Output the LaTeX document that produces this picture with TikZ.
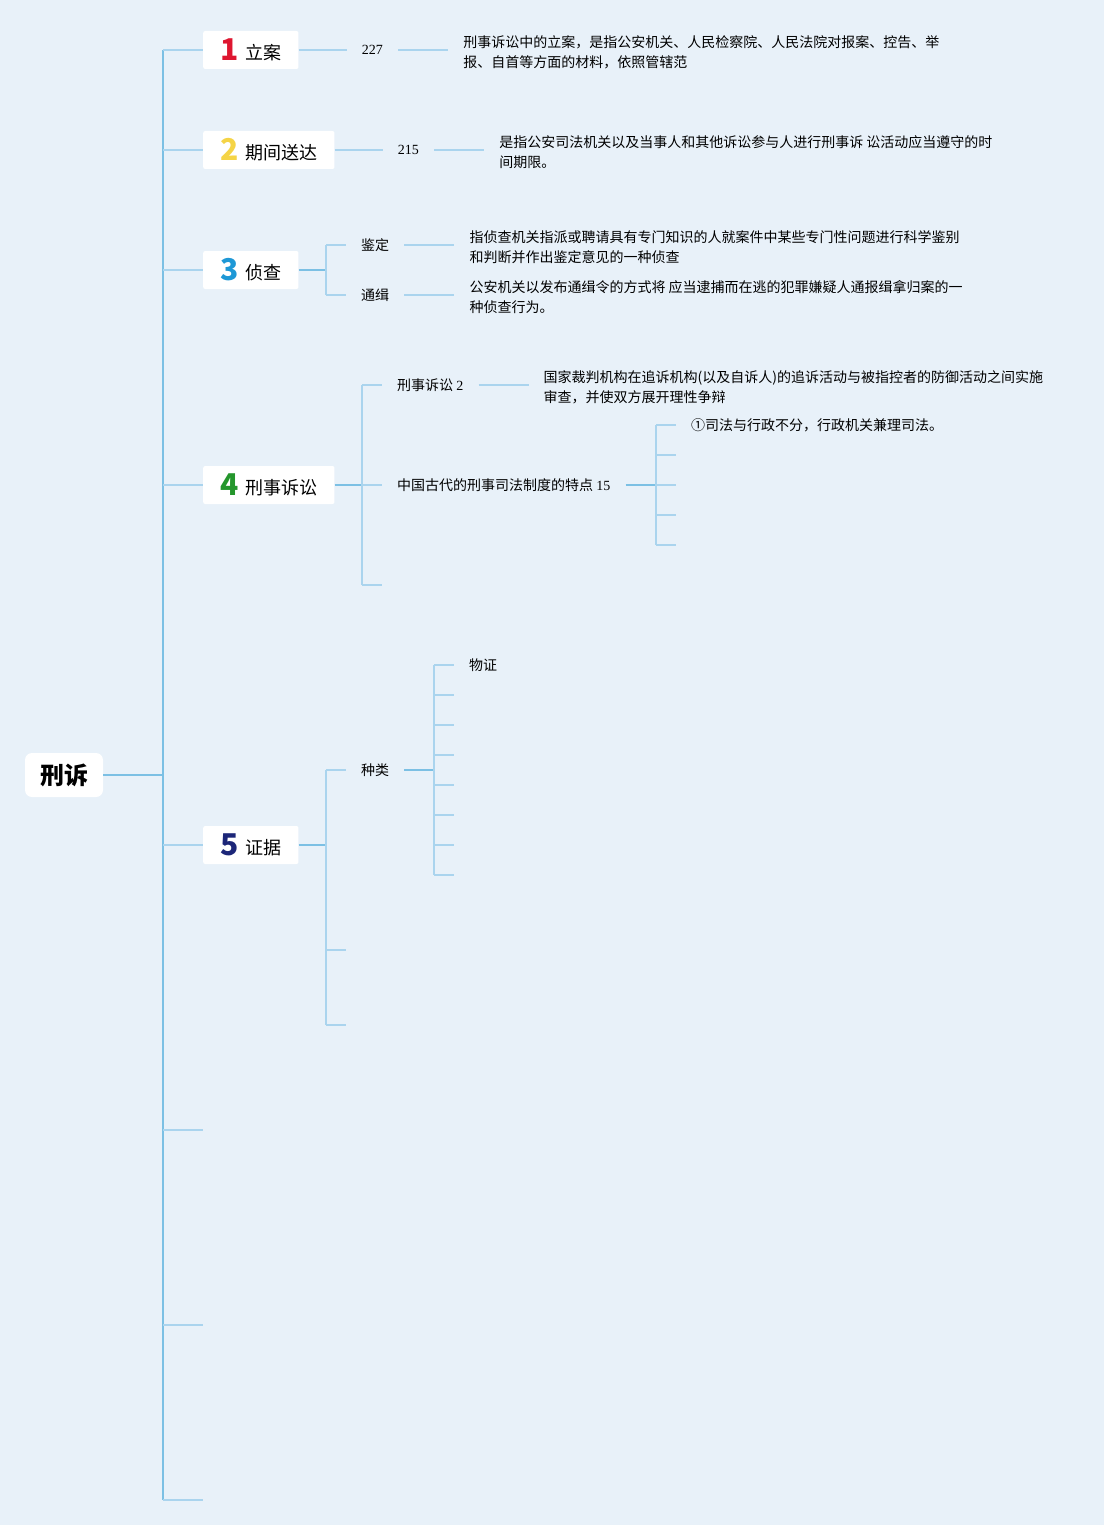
\documentclass[tikz,border=0pt]{standalone}
\usepackage{fontspec}
\setmainfont{Liberation Serif}
\newfontfamily\cjk{Noto Sans CJK SC}
\usepackage{tikz}
\usetikzlibrary{positioning}
\definecolor{bgblue}{RGB}{232,241,249}
\definecolor{trunkblue}{RGB}{124,192,228}
\definecolor{stemblue}{RGB}{170,212,238}
\definecolor{numred}{RGB}{222,22,48}
\definecolor{numyellow}{RGB}{245,212,70}
\definecolor{numblue}{RGB}{30,152,214}
\definecolor{numgreen}{RGB}{36,150,44}
\definecolor{numnavy}{RGB}{28,38,120}
\tikzset{
  trunkln/.style={line width=1.6pt, draw=trunkblue},
  stemln/.style={line width=1.4pt, draw=stemblue},
  rootbox/.style={fill=white, rounded corners=7pt, minimum height=44pt, inner xsep=15pt,
    font=\cjk\bfseries\fontsize{24}{24}\selectfont},
  topicbox/.style={fill=white, rounded corners=2pt, minimum height=38pt, inner xsep=17pt,
    anchor=west, font=\cjk\fontsize{18}{18}\selectfont},
  leaf/.style={inner xsep=15pt, inner ysep=2pt, anchor=west,
    font=\cjk\fontsize{14}{20}\selectfont},
  note/.style={leaf, align=left, yshift=-2pt},
}
\newcommand{\topicnum}[2]{\raisebox{-1pt}{\bfseries\fontsize{30}{30}\selectfont\color{#1}#2}\hspace{7pt}}

\begin{document}
\begin{tikzpicture}[x=1pt, y=-1pt]
    \useasboundingbox[fill=bgblue] (0,0) rectangle (1104,1525);
    % root and main trunk
    \node[rootbox] (root) at (64,775) {刑诉};
    \coordinate (j0) at (163,775);
    \node[topicbox] (t1) at (203,50) {\topicnum{numred}{1}立案};
    \node[topicbox] (t2) at (203,150) {\topicnum{numyellow}{2}期间送达};
    \node[topicbox] (t3) at (203,270) {\topicnum{numblue}{3}侦查};
    \node[topicbox] (t4) at (203,485) {\topicnum{numgreen}{4}刑事诉讼};
    \node[topicbox] (t5) at (203,845) {\topicnum{numnavy}{5}证据};
    \coordinate (t6) at (203,1130);
    \coordinate (t7) at (203,1325);
    \coordinate (t8) at (203,1500);
    \draw[trunkln] (root) -- (j0);
    \draw[trunkln] (j0 |- t1) -- (j0 |- t8);
    \foreach \t in {t1,t2,t3,t4,t5,t6,t7,t8}
      \draw[stemln] (j0 |- \t) -- (\t);
    % 1 立案
    \node[leaf, right=48pt of t1] (c1) {\rmfamily 227};
    \node[note, right=50pt of c1] (d1) {刑事诉讼中的立案，是指公安机关、人民检察院、人民法院对报案、控告、举\\报、自首等方面的材料，依照管辖范};
    \draw[stemln] (t1) -- (c1);
    \draw[stemln] (c1) -- (d1.west |- c1);
    % 2 期间送达
    \node[leaf, right=48pt of t2] (c2) {\rmfamily 215};
    \node[note, right=50pt of c2] (d2) {是指公安司法机关以及当事人和其他诉讼参与人进行刑事诉 讼活动应当遵守的时\\间期限。};
    \draw[stemln] (t2) -- (c2);
    \draw[stemln] (c2) -- (d2.west |- c2);
    % 3 侦查
    \coordinate (j3) at (326,270);
    \node[leaf] (k1) at (346,245) {鉴定};
    \node[leaf] (k2) at (346,295) {通缉};
    \node[note, right=50pt of k1] (d3a) {指侦查机关指派或聘请具有专门知识的人就案件中某些专门性问题进行科学鉴别\\和判断并作出鉴定意见的一种侦查};
    \node[note, right=50pt of k2] (d3b) {公安机关以发布通缉令的方式将 应当逮捕而在逃的犯罪嫌疑人通报缉拿归案的一\\种侦查行为。};
    \draw[trunkln] (t3) -- (j3);
    \draw[stemln] (j3 |- k1) -- (j3 |- k2);
    \foreach \k in {k1,k2}
      \draw[stemln] (j3 |- \k) -- (\k);
    \draw[stemln] (k1) -- (d3a.west |- k1);
    \draw[stemln] (k2) -- (d3b.west |- k2);
    % 4 刑事诉讼
    \coordinate (j4) at (362,485);
    \node[leaf] (e1) at (382,385) {刑事诉讼 {\rmfamily 2}};
    \node[leaf] (e2) at (382,485) {中国古代的刑事司法制度的特点 {\rmfamily 15}};
    \coordinate (e3) at (382,585);
    \node[note, right=50pt of e1] (d4) {国家裁判机构在追诉机构(以及自诉人)的追诉活动与被指控者的防御活动之间实施\\审查，并使双方展开理性争辩};
    \draw[trunkln] (t4) -- (j4);
    \draw[stemln] (j4 |- e1) -- (j4 |- e3);
    \foreach \e in {e1,e2,e3}
      \draw[stemln] (j4 |- \e) -- (\e);
    \draw[stemln] (e1) -- (d4.west |- e1);
    % traits of the ancient system
    \coordinate (j5) at (656,485);
    \node[leaf] (f1) at (676,425) {①司法与行政不分，行政机关兼理司法。};
    \foreach \i/\y in {2/455,3/485,4/515,5/545}
      \coordinate (f\i) at (676,\y);
    \draw[trunkln] (e2) -- (j5);
    \draw[stemln] (j5 |- f1) -- (j5 |- f5);
    \foreach \f in {f1,f2,f3,f4,f5}
      \draw[stemln] (j5 |- \f) -- (\f);
    % 5 证据
    \coordinate (j6) at (326,845);
    \node[leaf] (g1) at (346,770) {种类};
    \coordinate (g2) at (346,950);
    \coordinate (g3) at (346,1025);
    \draw[trunkln] (t5) -- (j6);
    \draw[stemln] (j6 |- g1) -- (j6 |- g3);
    \foreach \g in {g1,g2,g3}
      \draw[stemln] (j6 |- \g) -- (\g);
    % kinds of evidence
    \coordinate (j7) at (434,770);
    \node[leaf] (h1) at (454,665) {物证};
    \foreach \i in {2,...,8}
      \coordinate (h\i) at (454,{665+30*(\i-1)});
    \draw[trunkln] (g1) -- (j7);
    \draw[stemln] (j7 |- h1) -- (j7 |- h8);
    \foreach \h in {h1,h2,h3,h4,h5,h6,h7,h8}
      \draw[stemln] (j7 |- \h) -- (\h);
\end{tikzpicture}
\end{document}
